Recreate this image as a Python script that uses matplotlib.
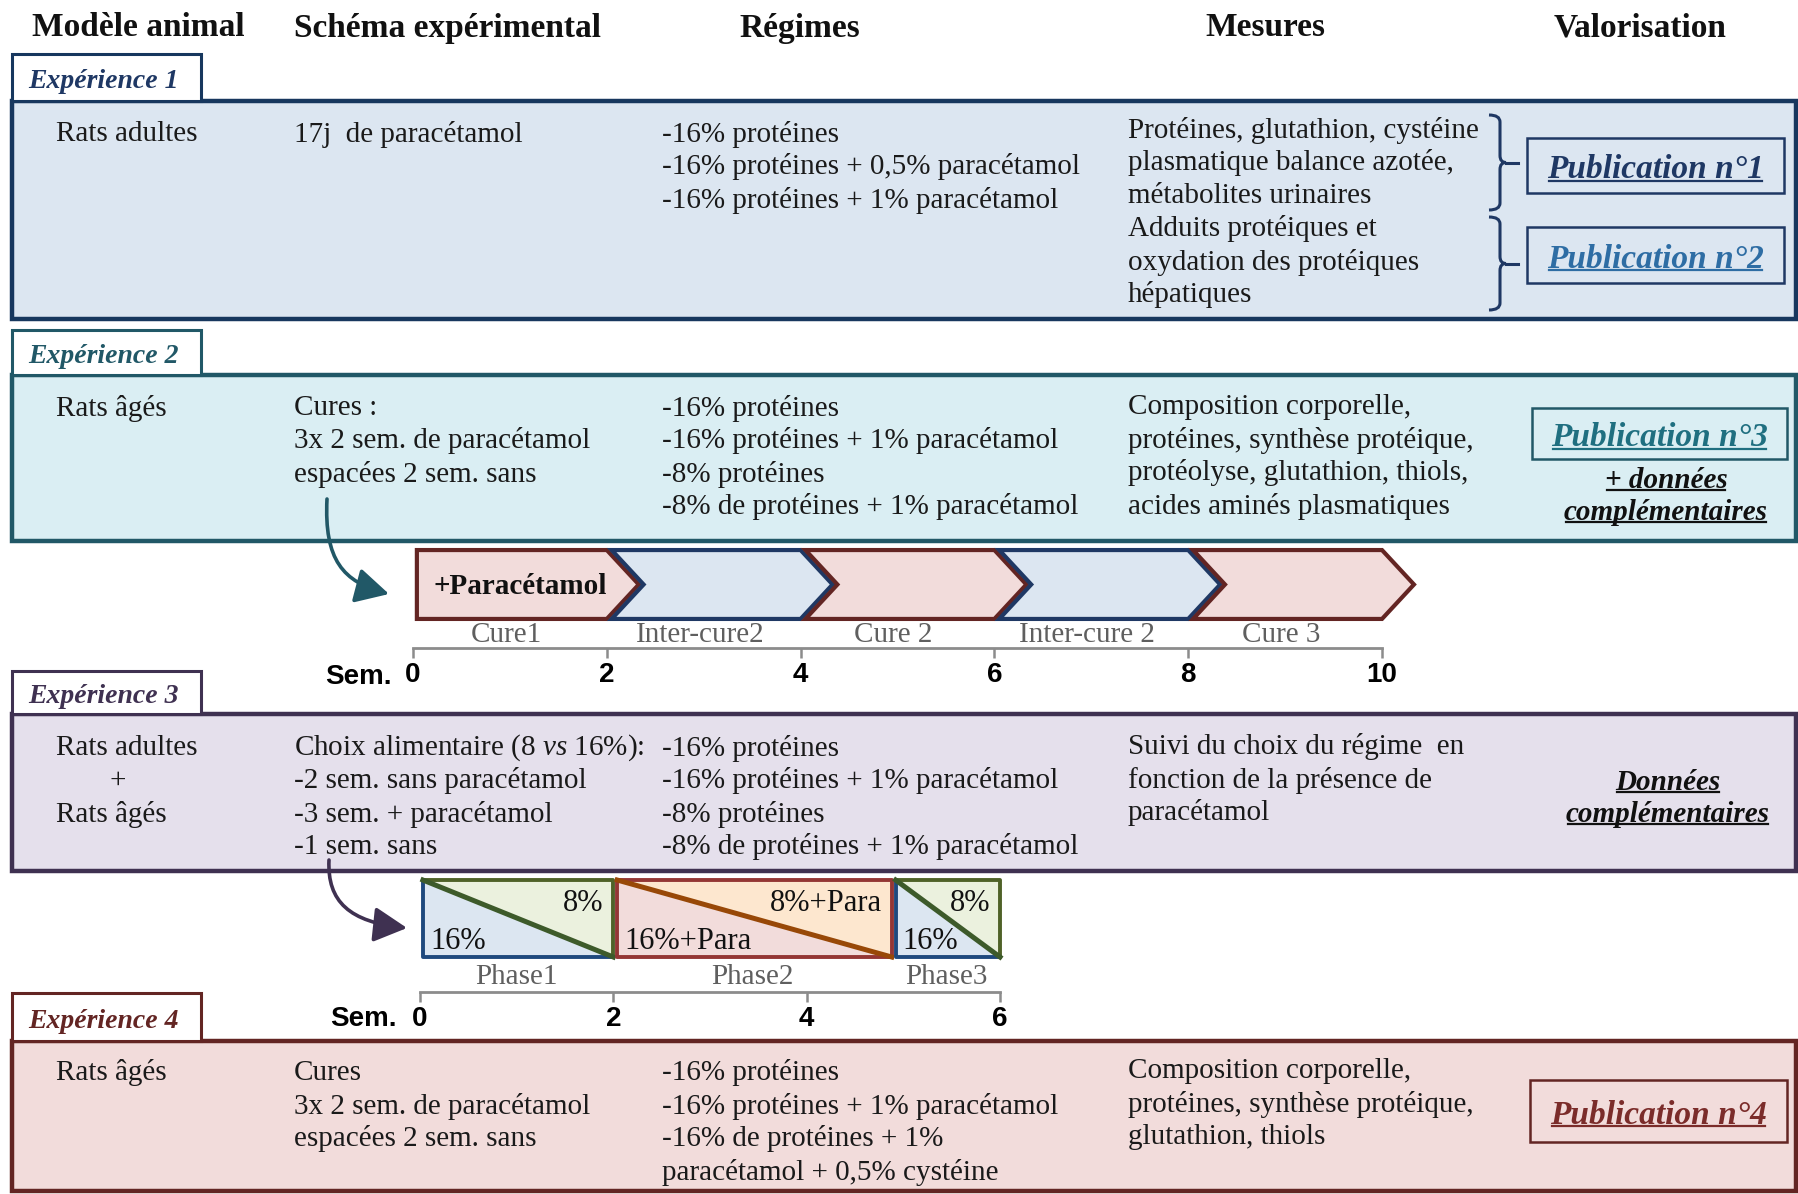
import matplotlib
matplotlib.use("Agg")
import matplotlib.pyplot as plt
from matplotlib.patches import Rectangle, Polygon, FancyArrowPatch, PathPatch
from matplotlib.path import Path

plt.rcParams['font.family'] = ['Liberation Serif', 'DejaVu Serif']
plt.rcParams['mathtext.fontset'] = 'custom'
plt.rcParams['mathtext.it'] = 'Liberation Serif:italic'
plt.rcParams['mathtext.rm'] = 'Liberation Serif'

# ---------------- data ----------------
headers = ["Modèle animal", "Schéma expérimental", "Régimes", "Mesures", "Valorisation"]
exp_titles = ["Expérience 1", "Expérience 2", "Expérience 3", "Expérience 4"]
models = [["Rats adultes"], ["Rats âgés"], ["Rats adultes", "+", "Rats âgés"], ["Rats âgés"]]
schemas = [["17j  de paracétamol"],
           ["Cures :", "3x 2 sem. de paracétamol", "espacées 2 sem. sans"],
           [r"Choix alimentaire (8 $\mathit{vs}$ 16%):", "-2 sem. sans paracétamol",
            "-3 sem. + paracétamol", "-1 sem. sans"],
           ["Cures", "3x 2 sem. de paracétamol", "espacées 2 sem. sans"]]
regimes = [["-16% protéines", "-16% protéines + 0,5% paracétamol", "-16% protéines + 1% paracétamol"],
           ["-16% protéines", "-16% protéines + 1% paracétamol", "-8% protéines",
            "-8% de protéines + 1% paracétamol"],
           ["-16% protéines", "-16% protéines + 1% paracétamol", "-8% protéines",
            "-8% de protéines + 1% paracétamol"],
           ["-16% protéines", "-16% protéines + 1% paracétamol", "-16% de protéines + 1%",
            "paracétamol + 0,5% cystéine"]]
mesures = [["Protéines, glutathion, cystéine", "plasmatique balance azotée,", "métabolites urinaires",
            "Adduits protéiques et", "oxydation des protéiques", "hépatiques"],
           ["Composition corporelle,", "protéines, synthèse protéique,", "protéolyse, glutathion, thiols,",
            "acides aminés plasmatiques"],
           ["Suivi du choix du régime  en", "fonction de la présence de", "paracétamol"],
           ["Composition corporelle,", "protéines, synthèse protéique,", "glutathion, thiols"]]
publications = [["Publication n°1", "Publication n°2"], ["Publication n°3"], [], ["Publication n°4"]]
extras = [[], ["+ données", "complémentaires"], ["Données", "complémentaires"], []]

cure_weeks = [0, 2, 4, 6, 8, 10]
cure_labels = ["Cure1", "Inter-cure2", "Cure 2", "Inter-cure 2", "Cure 3"]
cure_kind = ["cure", "inter", "cure", "inter", "cure"]
cure_first_label = "+Paracétamol"
phase_edges = [0, 2, 4.88, 6]
phase_labels = ["Phase1", "Phase2", "Phase3"]
phase_low = ["16%", "16%+Para", "16%"]
phase_high = ["8%", "8%+Para", "8%"]
phase_kind = ["plain", "para", "plain"]
phase_ticks = [0, 2, 4, 6]
axis_unit = "Sem."

# ---------------- layout / style ----------------
W, H = 1798, 1194
fig = plt.figure(figsize=(W / 100, H / 100), dpi=100)
ax = fig.add_axes([0, 0, 1, 1])
ax.set_xlim(0, W)
ax.set_ylim(H, 0)
ax.axis('off')

fills = ['#dce6f1', '#daeef3', '#e5e0ec', '#f2dcdb']
borders = ['#17375e', '#215867', '#3f3151', '#632523']
tab_colors = ['#1f3864', '#215867', '#3f3151', '#632523']
pub_colors = [['#1f3864', '#2e6da4'], ['#1f6f80'], [], ['#7b2c2a']]
body_color = '#1a1a1a'
label_gray = '#5f5f5f'

tab_top = [54, 330, 671, 993]
box_top = [101, 375, 714, 1041]
box_bot = [319, 541, 871, 1191]
line_y0 = [134, 408, 748, 1073]
mes_y0 = [130, 407, 747, 1071]
col_x = [56, 294, 662, 1128]
step = 33
body_fs = 21

# headers
hdr_x = [138, 448, 800, 1265, 1640]
for hx, txt in zip(hdr_x, headers):
    ax.text(hx, 28, txt, ha='center', va='center', fontsize=24, fontweight='bold', color='#111111')

underlines = []

for i in range(4):
    # panel
    ax.add_patch(Rectangle((12, box_top[i]), 1784, box_bot[i] - box_top[i], facecolor=fills[i],
                           edgecolor=borders[i], lw=3.2, zorder=1))
    ax.add_patch(Rectangle((12, tab_top[i]), 189, box_top[i] - tab_top[i], facecolor='white',
                           edgecolor=borders[i], lw=2.2, zorder=1))
    ax.text(28, (tab_top[i] + box_top[i]) / 2 + 4, exp_titles[i], ha='left', va='center', fontsize=20,
            fontweight='bold', fontstyle='italic', color=tab_colors[i], zorder=3)
    for k, s in enumerate(models[i]):
        if s == "+":
            ax.text(118, line_y0[i] + k * step, s, ha='center', va='center', fontsize=body_fs, color=body_color)
        else:
            ax.text(col_x[0], line_y0[i] + k * step, s, ha='left', va='center', fontsize=body_fs, color=body_color)
    for k, s in enumerate(schemas[i]):
        ax.text(col_x[1], line_y0[i] + k * step, s, ha='left', va='center', fontsize=body_fs, color=body_color)
    for k, s in enumerate(regimes[i]):
        ax.text(col_x[2], line_y0[i] + k * step, s, ha='left', va='center', fontsize=body_fs, color=body_color)
    for k, s in enumerate(mesures[i]):
        ax.text(col_x[3], mes_y0[i] + k * step, s, ha='left', va='center', fontsize=body_fs, color=body_color)

# publication boxes
pub_boxes = [[(1527, 138, 1784, 193), (1527, 227, 1784, 283)], [(1532, 408, 1787, 459)], [],
             [(1530, 1080, 1787, 1142)]]
for i in range(4):
    for j, txt in enumerate(publications[i]):
        x0, y0, x1, y1 = pub_boxes[i][j]
        ax.add_patch(Rectangle((x0, y0), x1 - x0, y1 - y0, facecolor='none', edgecolor=borders[i] if i else '#1f3864',
                               lw=1.8, zorder=2))
        t = ax.text((x0 + x1) / 2, (y0 + y1) / 2 + 4, txt, ha='center', va='center', fontsize=24,
                    fontweight='bold', fontstyle='italic', color=pub_colors[i][j], zorder=3)
        underlines.append((t, pub_colors[i][j], 24))

extra_pos = [[], [(1666, 480), (1666, 512)], [(1668, 782), (1668, 814)], []]
for i in range(4):
    for j, txt in enumerate(extras[i]):
        x, y = extra_pos[i][j]
        t = ax.text(x, y, txt, ha='center', va='center', fontsize=21, fontweight='bold',
                    fontstyle='italic', color='#111111', zorder=3)
        underlines.append((t, '#111111', 21))

# braces (experiment 1)
def brace(y0, y1, x0=1489, x1=1500, x2=1506, x3=1518, r=7, color='#1f3864'):
    ym = (y0 + y1) / 2
    verts = [(x0, y0), (x1, y0), (x1, y0 + r), (x1, ym - r), (x1, ym), (x2, ym),
             (x1, ym), (x1, ym + r), (x1, y1 - r), (x1, y1), (x0, y1)]
    codes = [Path.MOVETO, Path.CURVE3, Path.CURVE3, Path.LINETO, Path.CURVE3, Path.CURVE3,
             Path.CURVE3, Path.CURVE3, Path.LINETO, Path.CURVE3, Path.CURVE3]
    ax.add_patch(PathPatch(Path(verts, codes), facecolor='none', edgecolor=color, lw=2.2, zorder=3))
    ax.plot([x2, x3], [ym, ym], color=color, lw=2.2, zorder=3)

brace(115, 210)
brace(217, 310)

# curved arrows
def curved_arrow(p0, c1, c2, p1, color):
    path = Path([p0, c1, c2, p1], [Path.MOVETO, Path.CURVE4, Path.CURVE4, Path.CURVE4])
    ax.add_patch(FancyArrowPatch(path=path, arrowstyle='-|>,head_length=0.85,head_width=0.45',
                                 mutation_scale=24, color=color, lw=2.6, zorder=4))

curved_arrow((327, 499), (324, 560), (343, 582), (389, 594), '#215867')
curved_arrow((329, 860), (327, 902), (350, 922), (407, 928), '#3f3151')

# ---------------- timelines ----------------
sans_bold = dict(family=['Liberation Sans', 'DejaVu Sans'], fontweight='bold', fontsize=20)

def timeline_axes(left, right, top, bottom, px0, ppw, ticks):
    a = fig.add_axes([left / W, 1 - bottom / H, (right - left) / W, (bottom - top) / H])
    a.set_xlim((left - px0) / ppw, (right - px0) / ppw)
    a.set_ylim(0, 1)
    a.patch.set_visible(False)
    for s in ['top', 'left', 'right']:
        a.spines[s].set_visible(False)
    a.spines['bottom'].set_color('#8c8c8c')
    a.spines['bottom'].set_linewidth(2.0)
    a.spines['bottom'].set_bounds(ticks[0], ticks[-1])
    a.set_yticks([])
    a.tick_params(axis='x', direction='out', length=7, width=1.8, color='#8c8c8c', pad=3)
    a.set_xticks(ticks)
    a.set_xticklabels([str(w) for w in ticks], **sans_bold)
    return a

# Experience 2 : cures
ax2 = timeline_axes(300, 1500, 540, 648, 413, 96.9, cure_weeks)
top, bot = 0.907, 0.269
mid = (top + bot) / 2
d = 0.33
for k in range(len(cure_labels)):
    a = cure_weeks[k] + (0.04 if k == 0 else 0.05)
    b = cure_weeks[k + 1]
    if k == 0:
        pts = [(a, top), (b, top), (b + d, mid), (b, bot), (a, bot)]
    else:
        pts = [(a, top), (b, top), (b + d, mid), (b, bot), (a, bot), (a + d, mid)]
    fc, ec = ('#f2dcdb', '#632523') if cure_kind[k] == 'cure' else ('#dce6f1', '#1f3864')
    ax2.add_patch(Polygon(pts, closed=True, facecolor=fc, edgecolor=ec, lw=3.0, joinstyle='miter'))
    ax2.text((cure_weeks[k] + cure_weeks[k + 1]) / 2 - 0.04, 0.12, cure_labels[k], ha='center', va='center',
             fontsize=21, color=label_gray)
ax2.text(0.21, 0.57, cure_first_label, ha='left', va='center', fontsize=21, fontweight='bold', color='#111111')
ax.text(358, 677, axis_unit, ha='center', va='center', **sans_bold)

# Experience 3 : phases
ax3 = timeline_axes(300, 1100, 868, 992, 420, 96.67, phase_ticks)
top, bot = 0.903, 0.282
for k in range(len(phase_labels)):
    a = phase_edges[k] + (0.03 if k == 0 else 0.04)
    b = phase_edges[k + 1]
    if phase_kind[k] == 'plain':
        low_fc, high_fc, low_ec, high_ec, diag = '#dce6f1', '#ebf1de', '#1f497d', '#4f6228', '#3d5a2a'
    else:
        low_fc, high_fc, low_ec, high_ec, diag = '#f2dcdb', '#fde7cf', '#943634', '#943634', '#984807'
    ax3.add_patch(Polygon([(a, top), (a, bot), (b, bot)], closed=True, facecolor=low_fc, edgecolor='none'))
    ax3.add_patch(Polygon([(a, top), (b, top), (b, bot)], closed=True, facecolor=high_fc, edgecolor='none'))
    ax3.plot([a, a, b], [top, bot, bot], color=low_ec, lw=2.8, solid_capstyle='projecting')
    ax3.plot([a, b, b], [top, top, bot], color=high_ec, lw=2.8, solid_capstyle='projecting')
    ax3.plot([a, b], [top, bot], color=diag, lw=3.6)
    ax3.annotate(phase_low[k], (a, 0.41), xytext=(7, 0), textcoords='offset pixels', ha='left',
                 va='center', fontsize=22, color='#111111')
    ax3.annotate(phase_high[k], (b, 0.71), xytext=(-10, 0), textcoords='offset pixels', ha='right',
                 va='center', fontsize=22, color='#111111')
    ax3.text((phase_edges[k] + phase_edges[k + 1]) / 2, 0.12, phase_labels[k], ha='center', va='center',
             fontsize=21, color=label_gray)
ax.text(363, 1019, axis_unit, ha='center', va='center', **sans_bold)

# underlines
fig.canvas.draw()
renderer = fig.canvas.get_renderer()
inv = ax.transData.inverted()
for t, col, fs in underlines:
    bb = t.get_window_extent(renderer)
    em = fs * 100 / 72
    yd = bb.y0 + 0.13 * em
    (xa, ya) = inv.transform((bb.x0 + 2, yd))
    (xb, yb) = inv.transform((bb.x1 - 2, yd))
    ax.plot([xa, xb], [ya, yb], color=col, lw=1.6, zorder=3)

fig.savefig('out.png', dpi=100)
